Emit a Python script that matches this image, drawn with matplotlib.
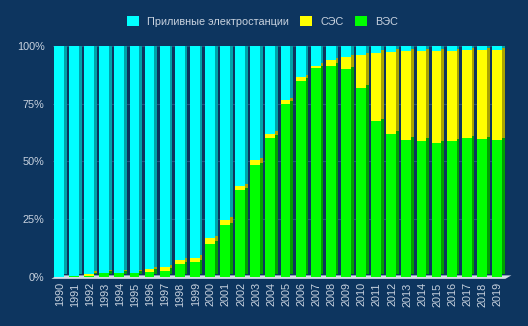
import numpy as np
import matplotlib.pyplot as plt
from matplotlib.patches import Polygon, Patch

plt.rcParams['font.family'] = ['Liberation Sans', 'DejaVu Sans']

years = [str(y) for y in range(1990, 2020)]
# shares, %
wind = [0.0, 0.3, 0.5, 1.5, 1.5, 1.5, 2.2, 2.6, 5.5, 6.3,
        14.3, 22.3, 37.6, 48.4, 60.3, 75.0, 85.0, 90.3, 91.5, 89.9,
        81.9, 67.4, 62.0, 59.4, 59.0, 57.8, 58.9, 60.0, 59.6, 59.3]
solar = [0.0, 0.0, 0.8, 0.3, 0.3, 0.3, 1.1, 1.6, 1.7, 2.0,
         2.4, 2.4, 1.7, 2.0, 1.7, 1.4, 1.4, 1.2, 2.5, 5.3,
         14.2, 29.7, 35.6, 38.4, 38.8, 40.0, 38.9, 38.3, 38.7, 39.0]
tidal = [100 - w - s for w, s in zip(wind, solar)]

labels = ['Приливные электростанции', 'СЭС', 'ВЭС']
faces = {'tidal': '#00ffff', 'solar': '#ffff00', 'wind': '#00ff00'}
sides = {'tidal': '#00a2aa', 'solar': '#aaa400', 'wind': '#00a000'}

bg = '#0d355f'
txt = '#c9d3df'

fig = plt.figure(figsize=(5.28, 3.26), dpi=100, facecolor=bg)
ax = fig.add_axes([0.1, 0.151, 0.856, 0.708], facecolor=bg)

x = np.arange(len(years))
fw = 0.65      # front face width
sw = 0.18      # side face width
depth = 1.0    # vertical shift of the side/top faces, in %
left = x - 0.38

bottom = np.zeros(len(years))
for key, vals in [('wind', wind), ('solar', solar), ('tidal', tidal)]:
    vals = np.array(vals)
    ax.bar(left + fw, vals, width=sw, bottom=bottom + depth, align='edge',
           color=sides[key], linewidth=0, zorder=2)
    ax.bar(left, vals, width=fw, bottom=bottom, align='edge',
           color=faces[key], linewidth=0, zorder=3)
    bottom = bottom + vals

# top caps
for xi, top in zip(left, bottom):
    cap = Polygon([(xi, top), (xi + fw, top), (xi + fw + sw, top + depth),
                   (xi + sw, top + depth)], closed=True,
                  facecolor='#5ff4f0', edgecolor='none', zorder=4)
    ax.add_patch(cap)

# floor
floor = Polygon([(-0.55, -0.9), (29.5, -0.9), (29.9, 0.6), (-0.2, 0.6)],
                closed=True, facecolor='#d6dde6', edgecolor='none',
                zorder=1, clip_on=False)
ax.add_patch(floor)

ax.set_xlim(-0.46, 29.46)
ax.set_ylim(0, 100)
ax.set_yticks([0, 25, 50, 75, 100])
ax.set_yticklabels(['0%', '25%', '50%', '75%', '100%'])
ax.set_xticks(x)
ax.set_xticklabels(years, rotation=90)
ax.tick_params(axis='both', length=0, colors=txt, labelsize=7.8)
ax.tick_params(axis='x', pad=4)
ax.tick_params(axis='y', pad=6)
ax.yaxis.grid(True, color='#2a5280', linewidth=0.8, zorder=0)
ax.set_axisbelow(True)
for s in ax.spines.values():
    s.set_visible(False)

handles = [Patch(facecolor=faces['tidal']), Patch(facecolor=faces['solar']),
           Patch(facecolor=faces['wind'])]
fig.legend(handles, labels, loc='center', bbox_to_anchor=(0.497, 0.935),
           ncol=3, frameon=False, fontsize=7.8, labelcolor=txt,
           handlelength=1.1, handleheight=1.1, handletextpad=0.8,
           columnspacing=1.0)

fig.savefig('out.png', dpi=100, facecolor=bg)
